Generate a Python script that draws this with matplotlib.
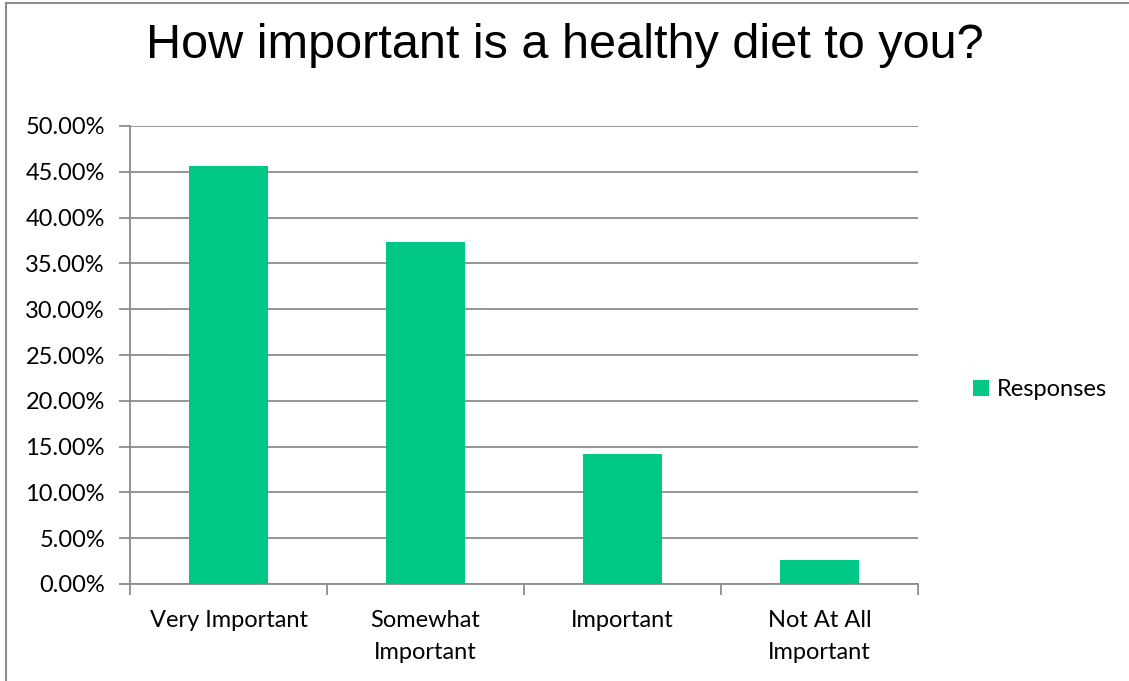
import matplotlib.pyplot as plt
from matplotlib.ticker import PercentFormatter
from matplotlib.patches import Rectangle

# Chart data
categories = ["Very Important", "Somewhat\nImportant", "Important", "Not At All\nImportant"]
responses = [45.6, 37.3, 14.2, 2.6]
yticks = [0, 5, 10, 15, 20, 25, 30, 35, 40, 45, 50]

bar_color = "#00C785"
grid_color = "#8C8C8C"
label_font = "Lato"

fig = plt.figure(figsize=(11.29, 6.81), dpi=100)
ax = fig.add_axes([130 / 1129, 1 - 584 / 681, 788 / 1129, 458 / 681])

x = range(len(categories))
ax.bar(x, responses, width=0.4, color=bar_color, label="Responses", zorder=3)

ax.set_xlim(-0.5, len(categories) - 0.5)
ax.set_ylim(0, 50)
ax.set_yticks(yticks)
ax.yaxis.set_major_formatter(PercentFormatter(decimals=2))
ax.grid(axis="y", color=grid_color, linewidth=1.3, zorder=0)

# category boundary ticks like Excel
ax.set_xticks([i - 0.5 for i in range(len(categories) + 1)], minor=False)
ax.set_xticklabels([])
ax.set_xticks(list(x), minor=True)
ax.set_xticklabels(categories, minor=True, fontsize=17, fontfamily=label_font, linespacing=1.65)
ax.tick_params(axis="x", which="major", length=8, color=grid_color, width=1.3)
ax.tick_params(axis="x", which="minor", length=0, pad=19)
ax.tick_params(axis="y", length=8, color=grid_color, width=1.3, labelsize=17, pad=10)
for lab in ax.get_yticklabels():
    lab.set_fontfamily(label_font)

for side in ["top", "right"]:
    ax.spines[side].set_visible(False)
for side in ["left", "bottom"]:
    ax.spines[side].set_color(grid_color)
    ax.spines[side].set_linewidth(1.3)

fig.text(0.5, 1 - 45 / 681, "How important is a healthy diet to you?",
         ha="center", va="center", fontsize=35, fontfamily="Liberation Sans")

leg = fig.legend(loc="center left", bbox_to_anchor=(952 / 1129, 1 - 390 / 681),
                 frameon=False, prop={"family": label_font, "size": 17},
                 handlelength=0.65, handleheight=0.65, handletextpad=0.35)

# outer chart border
fig.patches.append(Rectangle((6 / 1129, -0.01), 1.1, 1 - 3 / 681 + 0.01,
                             transform=fig.transFigure, fill=False,
                             edgecolor="#8C8C8C", linewidth=1.5))

fig.savefig("out.png", dpi=100)
